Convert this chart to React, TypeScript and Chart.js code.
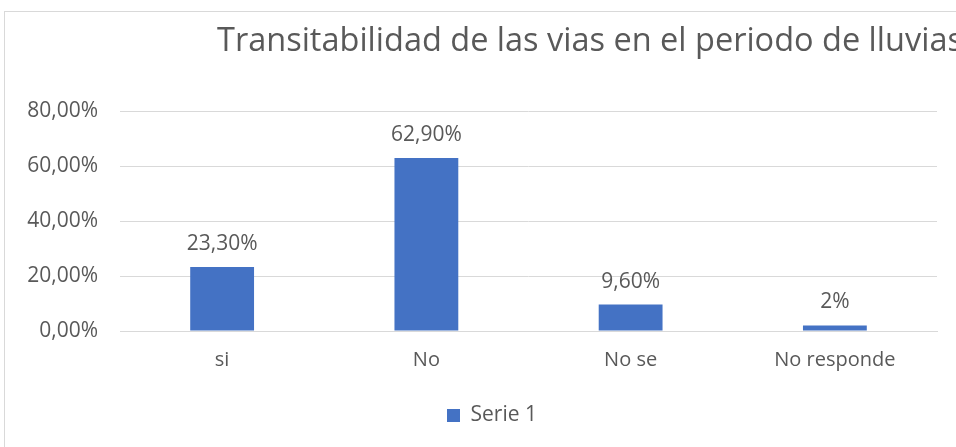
import React, { useEffect, useRef } from "react";
import { Chart, registerables } from "chart.js";

Chart.register(...registerables);

const categories = ["si", "No", "No se", "No responde"];
const seriesName = "Serie 1";
const values = [23.3, 62.9, 9.6, 2];
const valueLabels = ["23,30%", "62,90%", "9,60%", "2%"];
const yTicks = [0, 20, 40, 60, 80];
const titleText = "Transitabilidad de las vias en el periodo de lluvias";

const FONT = "'Open Sans', Lato, sans-serif";
const TEXT = "#595959";

const fmt = (v: number) => v.toFixed(2).replace(".", ",") + "%";

export default function App() {
  const ref = useRef<HTMLCanvasElement | null>(null);
  useEffect(() => {
    document.body.style.margin = "0";
    const ctx = ref.current!.getContext("2d")!;
    const titlePlugin = {
      id: "customTitle",
      afterLayout(chart: any) {
        if (chart.legend) {
          chart.legend.left += 21;
          chart.legend.right += 21;
        }
      },
      afterDraw(chart: any) {
        const c = chart.ctx;
        c.save();
        c.font = `32.5px ${FONT}`;
        c.fillStyle = TEXT;
        c.textAlign = "left";
        c.textBaseline = "alphabetic";
        c.fillText(titleText, 212, 39);
        c.restore();
      },
    };
    const labelPlugin = {
      id: "valueLabels",
      afterDatasetsDraw(chart: any) {
        const c = chart.ctx;
        const meta = chart.getDatasetMeta(0);
        c.save();
        c.font = `21px ${FONT}`;
        c.fillStyle = TEXT;
        c.textAlign = "center";
        c.textBaseline = "middle";
        meta.data.forEach((bar: any, i: number) => {
          c.fillText(valueLabels[i], bar.x, bar.y - 23);
        });
        c.restore();
      },
    };
    const chart = new Chart(ctx, {
      type: "bar",
      data: {
        labels: categories,
        datasets: [
          {
            label: seriesName,
            data: values,
            backgroundColor: "#4472C4",
            borderWidth: 0,
            barPercentage: 0.3125,
            categoryPercentage: 1,
          },
        ],
      },
      options: {
        animation: false,
        responsive: false,
        maintainAspectRatio: false,
        layout: { padding: { top: 99, right: 40, left: 0, bottom: 12 } },
        plugins: {
          title: { display: false },
          tooltip: { enabled: false },
          legend: {
            position: "bottom",
            labels: {
              color: TEXT,
              font: { family: FONT, size: 21 },
              boxWidth: 13,
              boxHeight: 13,
              padding: 14,
            },
          },
        },
        scales: {
          x: {
            grid: { display: false, drawTicks: false },
            border: { color: "#D9D9D9", width: 1 },
            ticks: { color: TEXT, font: { family: FONT, size: 20 }, padding: 17 },
            afterFit(scale: any) {
              scale.height = 60;
            },
          },
          y: {
            min: 0,
            max: 80,
            afterBuildTicks(scale: any) {
              scale.ticks = yTicks.map((v) => ({ value: v }));
            },
            grid: { color: "#D9D9D9", drawTicks: false },
            border: { display: false },
            ticks: {
              color: TEXT,
              font: { family: FONT, size: 21 },
              padding: 22,
              callback: (v: any) => fmt(Number(v)),
            },
            afterFit(scale: any) {
              scale.width = 115;
            },
          },
        },
      },
      plugins: [titlePlugin, labelPlugin],
    });
    return () => chart.destroy();
  }, []);
  return (
    <div style={{ position: "relative", width: 956, height: 447, overflow: "hidden", background: "#fff" }}>
      <div
        style={{
          position: "absolute",
          left: 4,
          top: 11,
          width: 974,
          height: 445,
          border: "1px solid #D9D9D9",
          boxSizing: "border-box",
        }}
      >
        <canvas ref={ref} width={972} height={436} style={{ display: "block" }} />
      </div>
    </div>
  );
}
